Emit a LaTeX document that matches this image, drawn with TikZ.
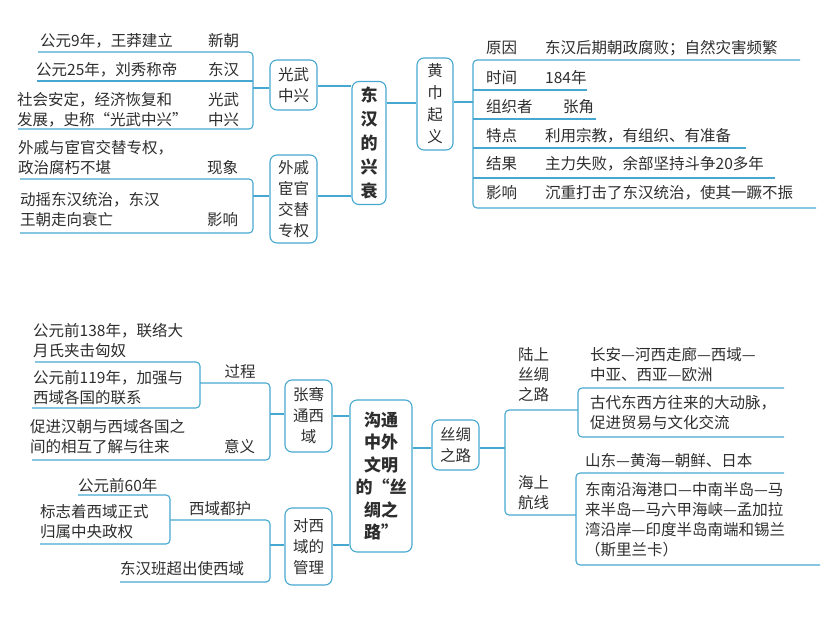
\documentclass[tikz,border=0pt]{standalone}
\usepackage{fontspec}
\setmainfont{Noto Sans CJK SC}
\definecolor{ln}{RGB}{70,168,208}
\definecolor{tx}{RGB}{45,45,45}
\begin{document}
\begin{tikzpicture}[x=1pt,y=-1pt,
  every node/.style={text=tx,font=\fontsize{15.5}{20}\selectfont,inner sep=0pt},
  t/.style={anchor=west,align=left},
  box/.style={draw=ln,line width=1.1pt,rounded corners=7pt,minimum width=#1,align=center,font=\fontsize{15.5}{21}\selectfont},
  box/.default=47pt,
  ul/.style={draw=ln,line width=1.1pt,rounded corners=4pt}]
\useasboundingbox (0,0) rectangle (840,629);
% ---------- top: main
\node[box=34pt,minimum height=123pt,font=\fontsize{17}{24}\selectfont\bfseries] (m1) at (369,143) {东\\汉\\的\\兴\\衰};
\node[box,minimum height=50pt] (gw) at (293.5,85) {光武\\中兴};
\node[box,minimum height=88pt] (wq) at (293.5,199) {外戚\\宦官\\交替\\专权};
\node[box=36pt,minimum height=92pt,font=\fontsize{15.5}{22}\selectfont] (hj) at (435,104) {黄\\巾\\起\\义};
\coordinate (m1l1) at (m1.west |- 0,86);
\coordinate (m1l2) at (m1.west |- 0,196);
\draw[ln,line width=1.1pt] (gw.east |- 0,86) -- (m1l1);
\draw[ln,line width=1.1pt] (wq.east |- 0,196) -- (m1l2);
\draw[ln,line width=1.1pt] (m1.east |- 0,103) -- (hj.west |- 0,103);
% top-left rows
\path[ul] (38,52) -| (253,129) -- (18,129);
\path[ul] (37,81) -- (253,81);
\draw[ln,line width=1.1pt] (253,88) -- (gw.west |- 0,88);
\node[t] at (40,41) {公元9年，王莽建立};
\node[t] at (208,41) {新朝};
\node[t] at (36,70) {公元25年，刘秀称帝};
\node[t] at (208,70) {东汉};
\node[t] at (17,110) {社会安定，经济恢复和\\发展，史称“光武中兴”};
\node[t] at (208,110) {光武\\中兴};
\path[ul] (20,179) -| (253,233) -- (20,233);
\draw[ln,line width=1.1pt] (253,196) -- (wq.west |- 0,196);
\node[t] at (18,158) {外戚与宦官交替专权，\\政治腐朽不堪};
\node[t] at (207,168) {现象};
\node[t] at (20,210) {动摇东汉统治，东汉\\王朝走向衰亡};
\node[t] at (207,220) {影响};
% top-right rows
\draw[ln,line width=1.1pt] (hj.east |- 0,102) -- (473,102);
\path[ul] (800,60) -| (473,208) -- (816,208);
\foreach \y/\e in {90/587,119/596,148/746,178/775} \path[ul] (473,\y) -- (\e,\y);
\node[t] at (486,48) {原因};  \node[t] at (545,48) {东汉后期朝政腐败；自然灾害频繁};
\node[t] at (486,78) {时间};  \node[t] at (545,78) {184年};
\node[t] at (486,107) {组织者};\node[t] at (563,107) {张角};
\node[t] at (486,136) {特点};  \node[t] at (545,136) {利用宗教，有组织、有准备};
\node[t] at (486,164) {结果};  \node[t] at (545,164) {主力失败，余部坚持斗争20多年};
\node[t] at (486,193) {影响};  \node[t] at (545,193) {沉重打击了东汉统治，使其一蹶不振};
% ---------- bottom: main
\node[box=62pt,minimum height=152pt,font=\fontsize{17}{22.5}\selectfont\bfseries] (m2) at (381,476) {沟通\\中外\\文明\\的“丝\\绸之\\路”};
\node[box,minimum height=72pt] (zq) at (308.5,416) {张骞\\通西\\域};
\node[box,minimum height=77pt] (dx) at (308.5,546.5) {对西\\域的\\管理};
\node[box,minimum height=50pt] (sc) at (455.5,445) {丝绸\\之路};
\draw[ln,line width=1.1pt] (zq.east |- 0,416) -- (m2.west |- 0,416);
\draw[ln,line width=1.1pt] (dx.east |- 0,545) -- (m2.west |- 0,545);
\draw[ln,line width=1.1pt] (m2.east |- 0,448) -- (sc.west |- 0,448);
% bottom-left
\path[ul] (35,362) -| (200,408) -- (32,408);
\path[ul] (200,383) -| (270,460) -- (32,460);
\draw[ln,line width=1.1pt] (270,414) -- (zq.west |- 0,414);
\node[t] at (33,341) {公元前138年，联络大\\月氏夹击匈奴};
\node[t] at (33,388) {公元前119年，加强与\\西域各国的联系};
\node[anchor=south] at (240,379) {过程};
\node[t] at (30,437) {促进汉朝与西域各国之\\间的相互了解与往来};
\node[t] at (224,447) {意义};
\path[ul] (78,495) -| (170,544) -- (40,544);
\path[ul] (170,520) -| (270,582) -- (120,582);
\draw[ln,line width=1.1pt] (270,545) -- (dx.west |- 0,545);
\node[t] at (78,486) {公元前60年};
\node[t] at (40,522) {标志着西域正式\\归属中央政权};
\node[anchor=south] at (220,516) {西域都护};
\node[t] at (120,569) {东汉班超出使西域};
% bottom-right
\draw[ln,line width=1.1pt] (sc.east |- 0,448) -- (505,448);
\path[ul] (578,410) -- (505,410) -- (505,515) -- (576,515);
\path[ul] (784,388) -| (578,437) -- (784,437);
\path[ul] (784,473) -| (576,565) -- (820,565);
\node[t] at (518,375) {陆上\\丝绸\\之路};
\node[t] at (590,365) {长安—河西走廊—西域—\\中亚、西亚—欧洲};
\node[t] at (590,413) {古代东西方往来的大动脉，\\促进贸易与文化交流};
\node[t] at (518,493) {海上\\航线};
\node[t] at (585,461) {山东—黄海—朝鲜、日本};
\node[t] at (585,520) {东南沿海港口—中南半岛—马\\来半岛—马六甲海峡—孟加拉\\湾沿岸—印度半岛南端和锡兰\\（斯里兰卡）};
\end{tikzpicture}
\end{document}
